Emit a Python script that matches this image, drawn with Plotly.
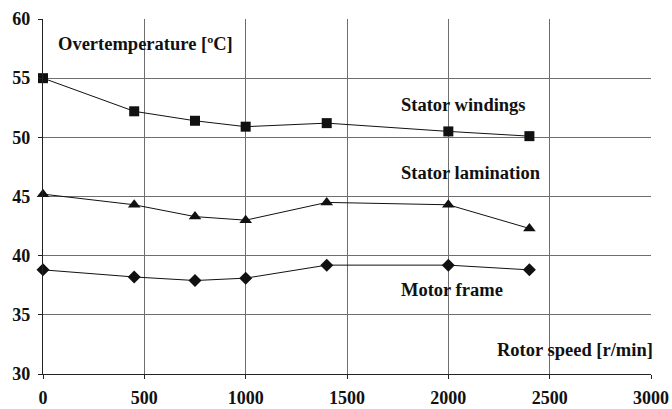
import plotly.graph_objects as go

speed = [0, 450, 750, 1000, 1400, 2000, 2400]
stator_windings = [55.0, 52.2, 51.4, 50.9, 51.2, 50.5, 50.1]
stator_lamination = [45.2, 44.3, 43.3, 43.0, 44.5, 44.3, 42.3]
motor_frame = [38.8, 38.2, 37.9, 38.1, 39.2, 39.2, 38.8]

x_ticks = [0, 500, 1000, 1500, 2000, 2500, 3000]
y_ticks = [30, 35, 40, 45, 50, 55, 60]

FONT = "Liberation Serif"

fig = go.Figure()
for ys, sym, sz in [(stator_windings, "square", 10),
                    (stator_lamination, "triangle-up", 11),
                    (motor_frame, "diamond", 10)]:
    fig.add_trace(go.Scatter(
        x=speed, y=ys, mode="lines+markers",
        line=dict(color="#111111", width=1),
        marker=dict(symbol=sym, size=sz, color="#111111"),
        showlegend=False, cliponaxis=False))

annotations = [
    dict(x=65, y=57.9, xref="x", text="<b>Overtemperature [ºC]</b>", xanchor="left"),
    dict(x=1756, y=52.7, xref="x", text="<b>Stator windings</b>", xanchor="left"),
    dict(x=1756, y=47.0, xref="x", text="<b>Stator lamination</b>", xanchor="left"),
    dict(x=1756, y=37.1, xref="x", text="<b>Motor frame</b>", xanchor="left"),
    dict(x=1.006, y=32.0, xref="paper", text="<b>Rotor speed [r/min]</b>", xanchor="right"),
]
for a in annotations:
    fig.add_annotation(x=a["x"], y=a["y"], xref=a["xref"], yref="y", text=a["text"],
                       xanchor=a["xanchor"], yanchor="middle", showarrow=False,
                       font=dict(family=FONT, size=18.5, color="#111111"))

fig.update_xaxes(range=[0, 3000], tickvals=x_ticks, ticktext=[str(v) for v in x_ticks],
                 showgrid=True, gridcolor="#6e6e6e", gridwidth=1,
                 showline=True, linecolor="#222222", linewidth=1.3,
                 ticks="outside", ticklen=4, tickcolor="#222222",
                 ticklabelstandoff=3, automargin=False,
                 tickfont=dict(family=FONT, size=18, color="#111111", weight="bold"),
                 zeroline=False, mirror=False)
fig.update_yaxes(range=[30, 60], tickvals=y_ticks, ticktext=[str(v) for v in y_ticks],
                 showgrid=True, gridcolor="#6e6e6e", gridwidth=1,
                 showline=True, linecolor="#222222", linewidth=1.3,
                 ticks="outside", ticklen=4, tickcolor="#222222",
                 ticklabelstandoff=4, automargin=False,
                 tickfont=dict(family=FONT, size=18, color="#111111", weight="bold"),
                 zeroline=False)

fig.update_layout(width=672, height=409,
                  margin=dict(l=43, r=21, t=19, b=35),
                  plot_bgcolor="white", paper_bgcolor="white")

fig.write_html("out.html", config={"displayModeBar": False},
               post_script="document.body.style.margin='0';document.body.style.overflow='hidden';")
